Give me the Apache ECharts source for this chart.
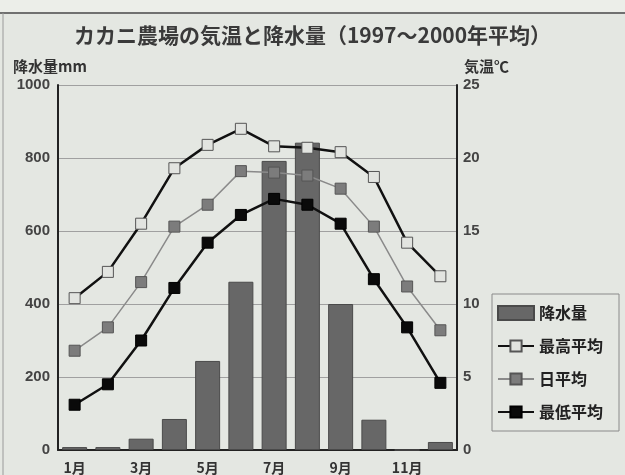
<!DOCTYPE html>
<html>
<head>
<meta charset="utf-8">
<script src="https://cdn.jsdelivr.net/npm/echarts@6/dist/echarts.min.js"></script>
<style>
html,body{margin:0;padding:0;background:#e4e7e2;}
#chart{width:625px;height:475px;}
</style>
</head>
<body>
<div id="chart"></div>
<script>
const categories = ['1月','2月','3月','4月','5月','6月','7月','8月','9月','10月','11月','12月'];
const precipitation = [8, 8, 31, 85, 244, 461, 792, 842, 400, 83, 0, 22];
const tempMax = [10.4, 12.2, 15.5, 19.3, 20.9, 22.0, 20.8, 20.7, 20.4, 18.7, 14.2, 11.9];
const tempMean = [6.8, 8.4, 11.5, 15.3, 16.8, 19.1, 19.0, 18.8, 17.9, 15.3, 11.2, 8.2];
const tempMin = [3.1, 4.5, 7.5, 11.1, 14.2, 16.1, 17.2, 16.8, 15.5, 11.7, 8.4, 4.6];
const seriesNames = ['降水量', '最高平均', '日平均', '最低平均'];
const titleText = 'カカニ農場の気温と降水量（1997〜2000年平均）';
const leftAxisName = '降水量mm';
const rightAxisName = '気温℃';

const FONT_CJK = '"Noto Sans CJK JP", sans-serif';
const FONT_NUM = '"Liberation Sans", "DejaVu Sans", sans-serif';

const chart = echarts.init(document.getElementById('chart'), null, {renderer: 'canvas'});
chart.setOption({
  backgroundColor: '#e4e7e2',
  animation: false,
  graphic: [
    {type: 'rect', left: 0, top: 0, shape: {width: 625, height: 13}, style: {fill: '#eceee9'}, z: -1},
    {type: 'line', shape: {x1: 0, y1: 13, x2: 625, y2: 13}, style: {stroke: '#707070', lineWidth: 2}},
    {type: 'line', shape: {x1: 3, y1: 13, x2: 3, y2: 475}, style: {stroke: '#9a9a9a', lineWidth: 1}}
  ],
  title: [
    {text: titleText, left: 'center', top: 20,
     textStyle: {fontFamily: FONT_CJK, fontSize: 21, fontWeight: 'bold', color: '#3a3a3a'}},
    {text: leftAxisName, left: 8, top: 54,
     textStyle: {fontFamily: FONT_CJK, fontSize: 15, fontWeight: 'bold', color: '#333'}},
    {text: rightAxisName, left: 459, top: 54,
     textStyle: {fontFamily: FONT_CJK, fontSize: 15, fontWeight: 'bold', color: '#333'}}
  ],
  grid: {left: 58, right: 168, top: 85, bottom: 22, containLabel: false},
  legend: {
    orient: 'vertical', left: 492, top: 294,
    padding: [11, 16, 11, 5], itemGap: 17, itemWidth: 36, itemHeight: 14,
    backgroundColor: '#e4e7e2', borderColor: '#8a8a8a', borderWidth: 1,
    textStyle: {fontFamily: FONT_CJK, fontSize: 16, fontWeight: 'bold', color: '#222'},
    data: [
      {name: seriesNames[0], icon: 'rect'},
      {name: seriesNames[1]},
      {name: seriesNames[2]},
      {name: seriesNames[3]}
    ]
  },
  xAxis: {
    type: 'category', data: categories,
    axisLine: {lineStyle: {color: '#222', width: 2}},
    axisTick: {show: false},
    axisLabel: {interval: 1, margin: 11, fontFamily: FONT_CJK, fontSize: 14, fontWeight: 'bold', color: '#333'}
  },
  yAxis: [
    {type: 'value', min: 0, max: 1000, interval: 200,
     axisLine: {show: true, lineStyle: {color: '#222', width: 2}},
     axisTick: {show: false},
     axisLabel: {margin: 8, formatter: function (v) { return String(v); },
                 fontFamily: FONT_NUM, fontSize: 15, fontWeight: 'bold', color: '#444'},
     splitLine: {show: true, lineStyle: {color: '#a0a0a0', width: 1}}},
    {type: 'value', min: 0, max: 25, interval: 5,
     axisLine: {show: true, lineStyle: {color: '#222', width: 2}},
     axisTick: {show: false},
     axisLabel: {margin: 6, fontFamily: FONT_NUM, fontSize: 15, fontWeight: 'bold', color: '#444'},
     splitLine: {show: false}}
  ],
  series: [
    {name: seriesNames[0], type: 'bar', yAxisIndex: 0, data: precipitation, barWidth: 25,
     itemStyle: {color: '#676767', borderColor: '#4a4a4a', borderWidth: 1}, z: 1},
    {name: seriesNames[1], type: 'line', yAxisIndex: 1, data: tempMax,
     symbol: 'rect', symbolSize: 11,
     lineStyle: {color: '#111', width: 2.5},
     itemStyle: {color: '#e2e4e0', borderColor: '#555', borderWidth: 1}, z: 3},
    {name: seriesNames[2], type: 'line', yAxisIndex: 1, data: tempMean,
     symbol: 'rect', symbolSize: 11,
     lineStyle: {color: '#8a8a8a', width: 1.5},
     itemStyle: {color: '#7c7c7c', borderColor: '#555', borderWidth: 1}, z: 3},
    {name: seriesNames[3], type: 'line', yAxisIndex: 1, data: tempMin,
     symbol: 'rect', symbolSize: 11,
     lineStyle: {color: '#111', width: 2.5},
     itemStyle: {color: '#0a0a0a', borderColor: '#000', borderWidth: 1}, z: 3}
  ]
});
</script>
</body>
</html>
